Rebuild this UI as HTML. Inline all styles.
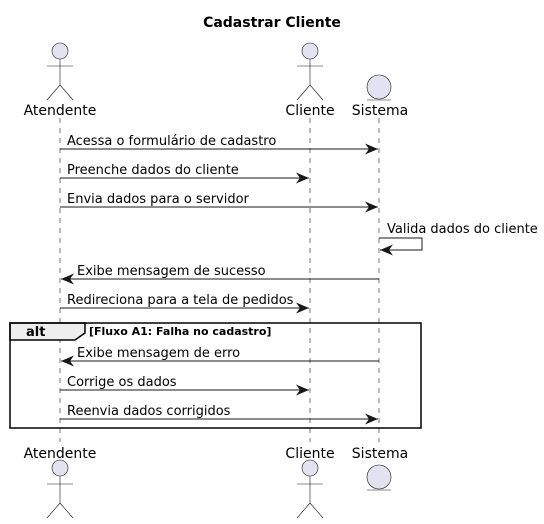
<!DOCTYPE html>
<html><head><meta charset="utf-8"><style>html,body{margin:0;padding:0;background:#fff}svg{display:block}text{font-family:"DejaVu Sans","Liberation Sans",sans-serif}</style></head>
<body>
<svg width="544" height="524" viewBox="0 0 544 524" xmlns="http://www.w3.org/2000/svg">
<defs><marker id="a" markerWidth="14" markerHeight="12" refX="13" refY="6" orient="auto" markerUnits="userSpaceOnUse"><path d="M0,0.5 L13,6 L0,11.5 L4,6 Z" fill="#181818"/></marker></defs>
<text x="272" y="27" font-size="14" font-weight="bold" text-anchor="middle">Cadastrar Cliente</text>
<g stroke="#555" stroke-width="0.8" stroke-dasharray="5,5">
<line x1="60" y1="118" x2="60" y2="442"/><line x1="310" y1="118" x2="310" y2="442"/><line x1="379" y1="118" x2="379" y2="442"/></g>
<g fill="#E2E2F0" stroke="#181818" stroke-width="0.6">
<circle cx="60" cy="51" r="8"/><path d="M60,59 V85 M47,66 H73 M47,100 L60,85 L73,100" fill="none"/>
<circle cx="310" cy="51" r="8"/><path d="M310,59 V85 M297,66 H323 M297,100 L310,85 L323,100" fill="none"/>
<circle cx="379" cy="87" r="12"/><line x1="367" y1="100" x2="391" y2="100"/>
<circle cx="60" cy="468" r="8"/><path d="M60,476 V503 M47,484 H73 M47,518 L60,503 L73,518" fill="none"/>
<circle cx="310" cy="468" r="8"/><path d="M310,476 V503 M297,484 H323 M297,518 L310,503 L323,518" fill="none"/>
<circle cx="379" cy="477" r="12"/><line x1="367" y1="490" x2="391" y2="490"/>
</g>
<g font-size="14" text-anchor="middle" fill="#000">
<text x="60" y="115">Atendente</text><text x="310" y="115">Cliente</text><text x="380" y="115">Sistema</text>
<text x="60" y="458">Atendente</text><text x="310" y="458">Cliente</text><text x="380" y="458">Sistema</text>
</g>
<g stroke="#181818" stroke-width="1" fill="none" marker-end="url(#a)">
<line x1="60" y1="149" x2="378" y2="149"/>
<line x1="60" y1="178" x2="309" y2="178"/>
<line x1="60" y1="207" x2="378" y2="207"/>
<path d="M379,238 H422 V250 H380"/>
<line x1="379" y1="279" x2="61" y2="279"/>
<line x1="60" y1="308" x2="309" y2="308"/>
<line x1="379" y1="361" x2="61" y2="361"/>
<line x1="60" y1="390" x2="309" y2="390"/>
<line x1="60" y1="419" x2="378" y2="419"/>
</g>
<g font-size="13" fill="#000">
<text x="67" y="145">Acessa o formulário de cadastro</text>
<text x="67" y="174">Preenche dados do cliente</text>
<text x="67" y="203">Envia dados para o servidor</text>
<text x="387" y="233">Valida dados do cliente</text>
<text x="77" y="275">Exibe mensagem de sucesso</text>
<text x="67" y="304">Redireciona para a tela de pedidos</text>
<text x="77" y="357">Exibe mensagem de erro</text>
<text x="67" y="386">Corrige os dados</text>
<text x="67" y="415">Reenvia dados corrigidos</text>
</g>
<path d="M10,323 H85 V333 L75,340 H10 Z" fill="#EEEEEE" stroke="#000" stroke-width="1.5"/>
<rect x="10" y="323" width="411" height="105" fill="none" stroke="#000" stroke-width="1.5"/>
<text x="26" y="336" font-size="13" font-weight="bold">alt</text>
<text x="89" y="335" font-size="11" font-weight="bold">[Fluxo A1: Falha no cadastro]</text>
</svg>
</body></html>
